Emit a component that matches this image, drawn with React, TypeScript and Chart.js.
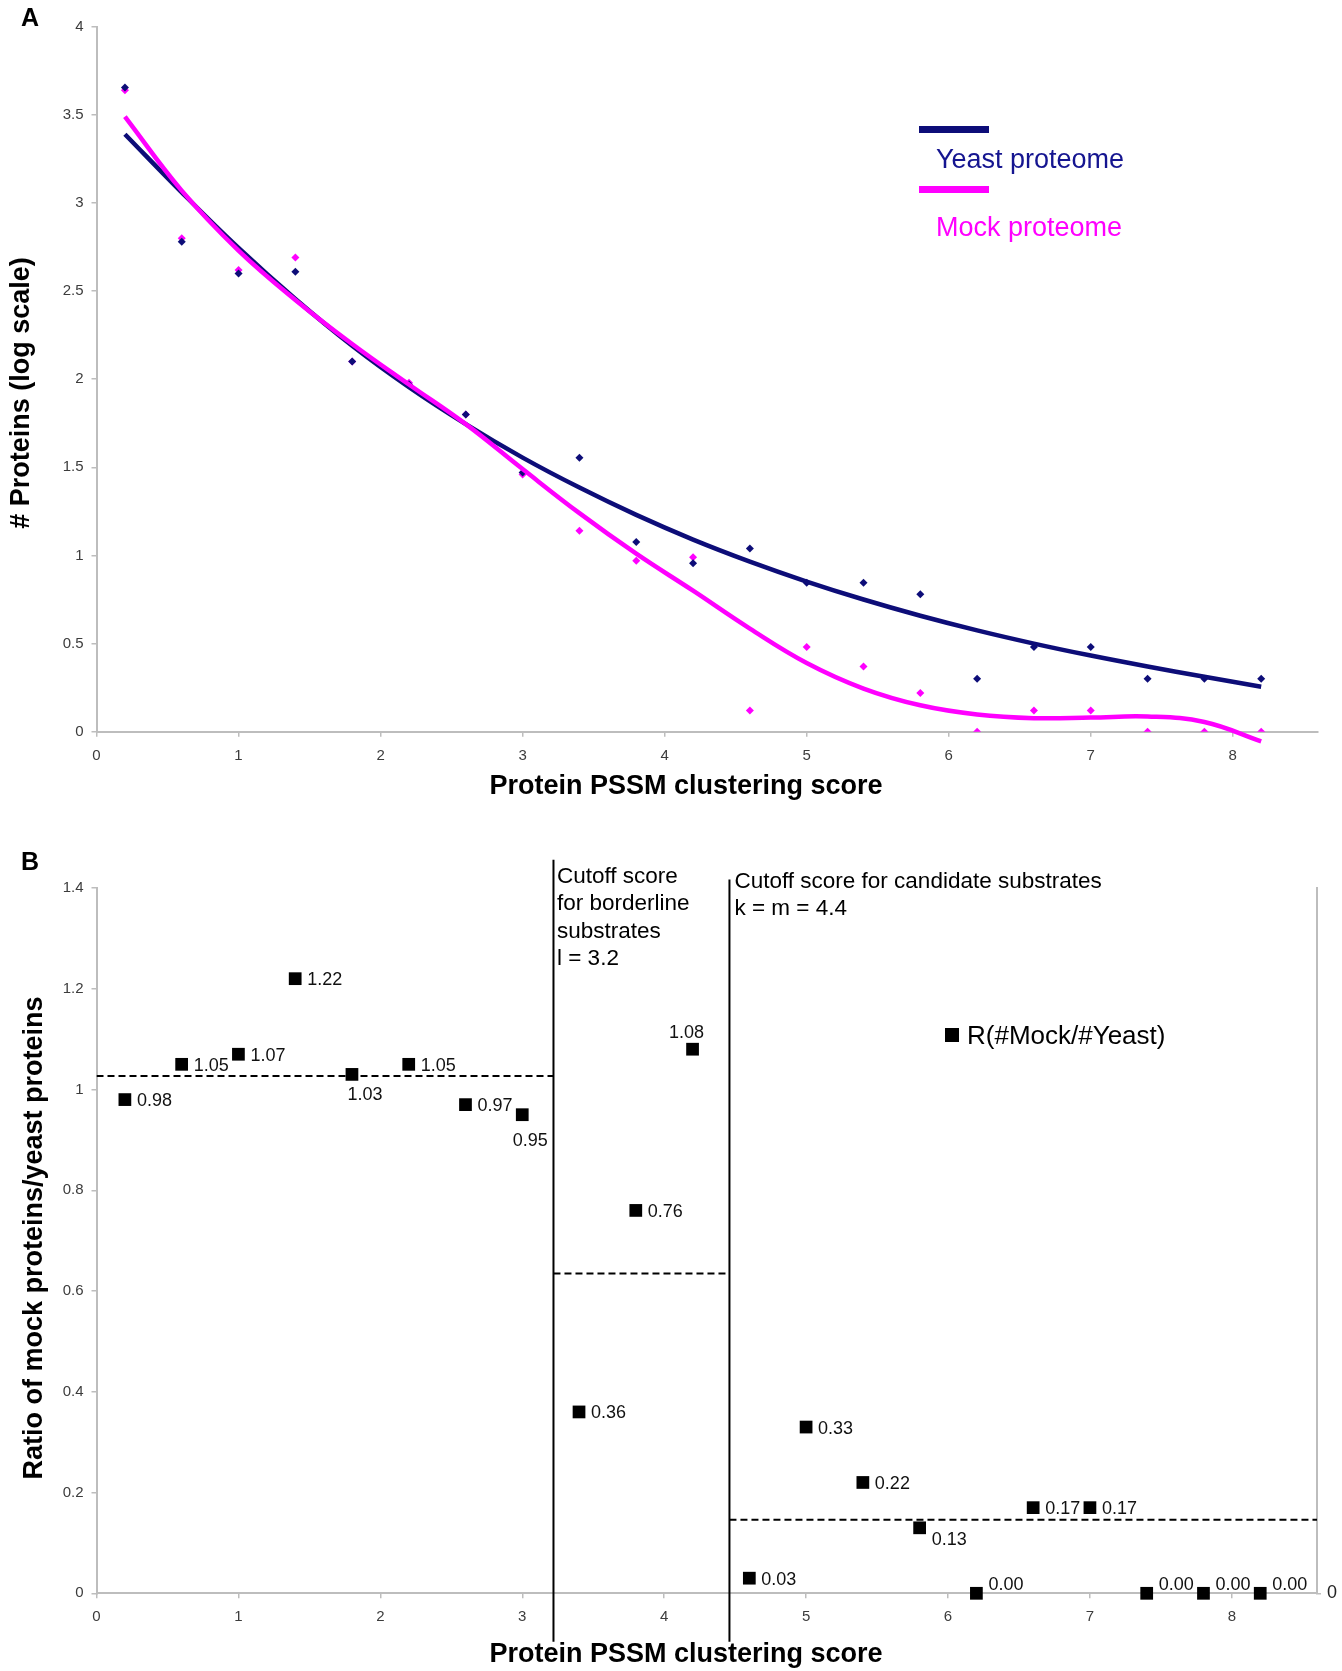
import React, { useEffect, useRef } from "react";
import { Chart, registerables } from "chart.js";

Chart.register(...registerables);

const FONT = '"Liberation Sans", Arial, Helvetica, sans-serif';
const NAVY = "#0d0d78";
const MAGENTA = "#ff00ff";
const AXIS_GRAY = "#bdbdbd";
const TICK_COLOR = "#3c3c3c";

const W = 1342;
const HA = 810;
const HB = 861;

// ---------------- Panel A data ----------------
const scores = [0.2, 0.6, 1.0, 1.4, 1.8, 2.2, 2.6, 3.0, 3.4, 3.8, 4.2, 4.6, 5.0, 5.4, 5.8, 6.2, 6.6, 7.0, 7.4, 7.8, 8.2];
const yeastLogCounts = [3.655, 2.78, 2.6, 2.61, 2.1, 1.97, 1.8, 1.47, 1.555, 1.077, 0.956, 1.04, 0.845, 0.845, 0.78, 0.3, 0.48, 0.48, 0.3, 0.3, 0.3];
const mockLogCounts = [3.64, 2.8, 2.62, 2.69, 2.1, 1.98, 1.8, 1.46, 1.14, 0.97, 0.99, 0.12, 0.48, 0.37, 0.22, 0, 0.12, 0.12, 0, 0, 0];
const yeastTrend = [3.39, 3.06, 2.745, 2.455, 2.19, 1.955, 1.745, 1.555, 1.385, 1.23, 1.09, 0.965, 0.852, 0.75, 0.658, 0.575, 0.5, 0.432, 0.37, 0.312, 0.255];
const mockTrend = [3.49, 3.07, 2.73, 2.45, 2.2, 1.97, 1.745, 1.49, 1.24, 1.01, 0.8, 0.585, 0.39, 0.245, 0.15, 0.098, 0.077, 0.08, 0.086, 0.055, -0.055];
const xTickValues = [0, 1, 2, 3, 4, 5, 6, 7, 8];
const yTickValuesA = [0, 0.5, 1, 1.5, 2, 2.5, 3, 3.5, 4];
const yTickLabelsA = ["0", "0.5", "1", "1.5", "2", "2.5", "3", "3.5", "4"];
const seriesNamesA = ["Yeast proteome", "Mock proteome"];

// ---------------- Panel B data ----------------
const ratioValues = [0.98, 1.05, 1.07, 1.22, 1.03, 1.05, 0.97, 0.95, 0.36, 0.76, 1.08, 0.03, 0.33, 0.22, 0.13, 0.0, 0.17, 0.17, 0.0, 0.0, 0.0];
const ratioLabelPlacement = ["r", "r", "r", "r", "b", "r", "r", "b2", "r", "r", "a", "r", "r", "r", "br", "ar", "r", "r", "ar", "ar", "ar"];
const cutoffScores = [3.22, 4.46];
const regionEdges = [0, 3.22, 4.46, 8.6];
const regionMeanRatio = [1.027, 0.635, 0.146];
const cutoffLineTop = [1.456, 1.417];
const cutoffLineBottom = -0.096;
const yTickValuesB = [0, 0.2, 0.4, 0.6, 0.8, 1.0, 1.2, 1.4];
const yTickLabelsB = ["0", "0.2", "0.4", "0.6", "0.8", "1", "1.2", "1.4"];
const cutoffTextL = ["Cutoff score", "for borderline", "substrates", "l = 3.2"];
const cutoffTextKM = ["Cutoff score for candidate substrates", "k = m = 4.4"];
const seriesNameB = "R(#Mock/#Yeast)";

const xTitle = "Protein PSSM clustering score";
const yTitleA = "# Proteins (log scale)";
const yTitleB = "Ratio of mock proteins/yeast proteins";

const xyA = (ys: number[]) => scores.map((x, i) => ({ x, y: ys[i] }));

function xScale(height: number): any {
  return {
    type: "linear",
    min: 0,
    max: 8.6,
    afterBuildTicks: (s: any) => {
      s.ticks = xTickValues.map((v) => ({ value: v }));
    },
    ticks: {
      font: { size: 15, family: FONT },
      color: TICK_COLOR,
      padding: 10,
      maxRotation: 0,
      autoSkip: false,
      callback: (v: any) => String(v),
    },
    grid: { display: true, drawOnChartArea: false, drawTicks: true, tickLength: 5, color: AXIS_GRAY, lineWidth: 1.5 },
    border: { display: true, color: AXIS_GRAY, width: 2 },
    afterFit: (s: any) => {
      s.height = height;
    },
  };
}

function yScale(min: number, max: number, vals: number[], labels: string[]): any {
  return {
    type: "linear",
    position: "left",
    min,
    max,
    afterBuildTicks: (s: any) => {
      s.ticks = vals.map((v) => ({ value: v }));
    },
    ticks: {
      font: { size: 15, family: FONT },
      color: TICK_COLOR,
      padding: 8,
      autoSkip: false,
      callback: (_v: any, i: number) => labels[i],
    },
    grid: { display: true, drawOnChartArea: false, drawTicks: true, tickLength: 5, color: AXIS_GRAY, lineWidth: 1.5 },
    border: { display: true, color: AXIS_GRAY, width: 2 },
    afterFit: (s: any) => {
      s.width = 96.5;
    },
  };
}

function drawRotated(ctx: CanvasRenderingContext2D, text: string, x: number, y: number) {
  ctx.save();
  ctx.translate(x, y);
  ctx.rotate(-Math.PI / 2);
  ctx.textAlign = "center";
  ctx.textBaseline = "middle";
  ctx.fillText(text, 0, 0);
  ctx.restore();
}

const panelAPlugin = {
  id: "panelAText",
  afterDraw(chart: any) {
    const ctx: CanvasRenderingContext2D = chart.ctx;
    ctx.save();
    ctx.fillStyle = "#000";
    ctx.font = `bold 25px ${FONT}`;
    ctx.textAlign = "center";
    ctx.textBaseline = "middle";
    ctx.fillText("A", 30, 19);
    ctx.font = `bold 27px ${FONT}`;
    ctx.fillText(xTitle, 686, 787);
    drawRotated(ctx, yTitleA, 22, 393);

    // legend
    ctx.fillStyle = NAVY;
    ctx.fillRect(919, 126, 70, 7);
    ctx.fillStyle = MAGENTA;
    ctx.fillRect(919, 186, 70, 7);
    ctx.font = `27px ${FONT}`;
    ctx.textAlign = "left";
    ctx.fillStyle = "#151590";
    ctx.fillText(seriesNamesA[0], 936, 161);
    ctx.fillStyle = MAGENTA;
    ctx.fillText(seriesNamesA[1], 936, 229);
    ctx.restore();
  },
};

const panelBPlugin = {
  id: "panelBText",
  afterDraw(chart: any) {
    const ctx: CanvasRenderingContext2D = chart.ctx;
    const xs = chart.scales.x;
    ctx.save();
    ctx.fillStyle = "#000";
    ctx.font = `bold 25px ${FONT}`;
    ctx.textAlign = "center";
    ctx.textBaseline = "middle";
    ctx.fillText("B", 30, 53);
    ctx.font = `bold 27px ${FONT}`;
    ctx.fillText(xTitle, 686, 845);
    drawRotated(ctx, yTitleB, 35, 428);

    // cutoff annotations
    ctx.font = `22.5px ${FONT}`;
    ctx.textAlign = "left";
    ctx.fillStyle = "#000";
    const x1 = xs.getPixelForValue(cutoffScores[0]) + 3.5;
    cutoffTextL.forEach((t, i) => ctx.fillText(t, x1, 66.7 + i * 27.3));
    const x2 = xs.getPixelForValue(cutoffScores[1]) + 5;
    cutoffTextKM.forEach((t, i) => ctx.fillText(t, x2, 71.7 + i * 26.6));

    // legend
    ctx.fillRect(945, 218, 14, 14);
    ctx.font = `26px ${FONT}`;
    ctx.fillText(seriesNameB, 967, 227);

    // data labels
    const meta = chart.getDatasetMeta(0);
    ctx.font = `18px ${FONT}`;
    ctx.fillStyle = "#111";
    meta.data.forEach((pt: any, i: number) => {
      const { x, y } = pt.getProps(["x", "y"], true);
      const label = ratioValues[i].toFixed(2);
      const p = ratioLabelPlacement[i];
      let tx = x + 12;
      let ty = y + 1.5;
      let align: CanvasTextAlign = "left";
      if (p === "b") {
        tx = x + 13;
        ty = y + 21;
        align = "center";
      } else if (p === "b2") {
        tx = x + 8;
        ty = y + 26;
        align = "center";
      } else if (p === "a") {
        tx = x - 6;
        ty = y - 16;
        align = "center";
      } else if (p === "br") {
        ty = y + 12;
      } else if (p === "ar") {
        ty = y - 8.5;
      }
      ctx.textAlign = align;
      ctx.fillText(label, tx, ty);
    });
    ctx.restore();
  },
};

function configA(): any {
  return {
    type: "scatter",
    data: {
      datasets: [
        {
          label: "Mock trend",
          data: xyA(mockTrend),
          showLine: true,
          borderColor: MAGENTA,
          borderWidth: 4.5,
          pointRadius: 0,
          tension: 0.4,
          clip: false,
        },
        {
          label: "Yeast trend",
          data: xyA(yeastTrend),
          showLine: true,
          borderColor: NAVY,
          borderWidth: 4.5,
          pointRadius: 0,
          tension: 0.4,
          clip: false,
        },
        {
          label: seriesNamesA[0],
          data: xyA(yeastLogCounts),
          pointStyle: "rectRot",
          pointRadius: 4,
          backgroundColor: NAVY,
          borderColor: NAVY,
          borderWidth: 0,
        },
        {
          label: seriesNamesA[1],
          data: xyA(mockLogCounts),
          pointStyle: "rectRot",
          pointRadius: 4,
          backgroundColor: MAGENTA,
          borderColor: MAGENTA,
          borderWidth: 0,
        },
      ],
    },
    options: {
      responsive: false,
      animation: false,
      events: [],
      layout: { padding: { left: 0, top: 26.7, right: 24, bottom: 0 } },
      plugins: { legend: { display: false }, tooltip: { enabled: false } },
      scales: {
        x: xScale(HA - 731.7),
        y: yScale(0, 4, yTickValuesA, yTickLabelsA),
      },
    },
    plugins: [panelAPlugin],
  };
}

function configB(): any {
  const dashed = regionMeanRatio.map((m, i) => ({
    label: "mean" + i,
    data: [
      { x: regionEdges[i], y: m },
      { x: regionEdges[i + 1], y: m },
    ],
    showLine: true,
    borderColor: "#000",
    borderWidth: 2,
    borderDash: [7, 4],
    pointRadius: 0,
  }));
  const verticals = cutoffScores.map((c, i) => ({
    label: "cutoff" + i,
    data: [
      { x: c, y: cutoffLineBottom },
      { x: c, y: cutoffLineTop[i] },
    ],
    showLine: true,
    borderColor: "#000",
    borderWidth: 2,
    pointRadius: 0,
    clip: false,
  }));
  return {
    type: "scatter",
    data: {
      datasets: [
        {
          label: seriesNameB,
          data: scores.map((x, i) => ({ x, y: ratioValues[i] })),
          pointStyle: "rect",
          pointRadius: 9,
          backgroundColor: "#000",
          borderColor: "#000",
          borderWidth: 0,
          clip: false,
        },
        ...dashed,
        ...verticals,
      ],
    },
    options: {
      responsive: false,
      animation: false,
      events: [],
      layout: { padding: { left: 0, top: 78, right: 0, bottom: 0 } },
      plugins: { legend: { display: false }, tooltip: { enabled: false } },
      scales: {
        x: xScale(HB - 783.3),
        y: yScale(0, 1.4, yTickValuesB, yTickLabelsB),
        y2: {
          type: "linear",
          position: "right",
          min: 0,
          max: 1.4,
          afterBuildTicks: (s: any) => {
            s.ticks = [{ value: 0 }];
          },
          ticks: {
            font: { size: 18, family: FONT },
            color: "#222",
            padding: 6,
            callback: () => "0",
          },
          grid: { display: true, drawOnChartArea: false, drawTicks: true, tickLength: 4, color: AXIS_GRAY, lineWidth: 1.5 },
          border: { display: true, color: AXIS_GRAY, width: 2 },
          afterFit: (s: any) => {
            s.width = 25;
          },
        },
      },
    },
    plugins: [panelBPlugin],
  };
}

export default function App() {
  const refA = useRef<HTMLCanvasElement>(null);
  const refB = useRef<HTMLCanvasElement>(null);
  useEffect(() => {
    Chart.defaults.font.family = FONT;
    const a = new Chart(refA.current as HTMLCanvasElement, configA());
    const b = new Chart(refB.current as HTMLCanvasElement, configB());
    return () => {
      a.destroy();
      b.destroy();
    };
  }, []);
  return (
    <div style={{ position: "absolute", left: 0, top: 0, width: W, height: HA + HB, background: "#fff" }}>
      <canvas ref={refA} width={W} height={HA} style={{ display: "block", width: W, height: HA }} />
      <canvas ref={refB} width={W} height={HB} style={{ display: "block", width: W, height: HB }} />
    </div>
  );
}
